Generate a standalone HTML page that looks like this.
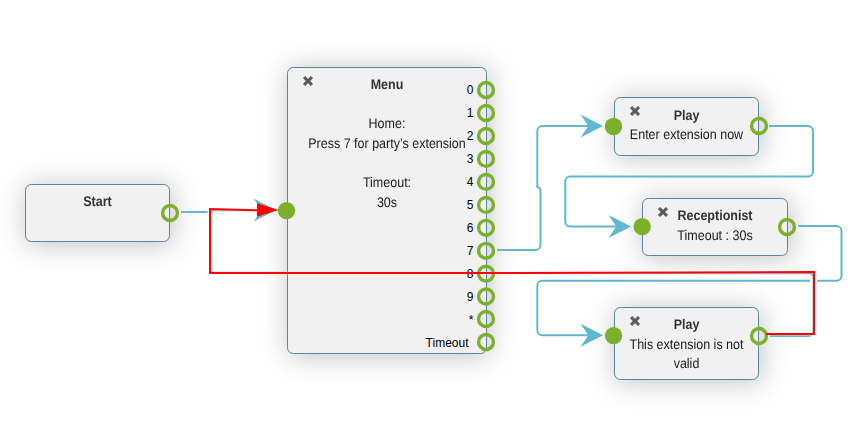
<!DOCTYPE html>
<html>
<head>
<meta charset="utf-8">
<title>IVR Flow</title>
<style>
html,body{margin:0;padding:0;background:#fff;}
body{width:866px;height:425px;position:relative;overflow:hidden;font-family:"Liberation Sans",sans-serif;font-size:12.6px;line-height:18px;color:#000;}
.w{position:absolute;box-sizing:border-box;border:1px solid #346789;border-radius:6.3px;background:#eeeeef;opacity:.8;box-shadow:2px 2px 26px 1px #b8b8b8;text-align:center;color:#000;}
.tx{position:absolute;z-index:7;text-align:center;color:rgba(0,0,0,.8);will-change:transform;font-size:14px;text-rendering:geometricPrecision;}
.tx .t{position:absolute;width:100%;font-weight:bold;white-space:nowrap;transform:scaleX(0.893);}
.tx .l{position:absolute;width:100%;white-space:nowrap;transform:scaleX(0.893);color:rgba(0,0,0,.9);}
.w svg.x{position:absolute;width:10px;height:10px;}
.lb{position:absolute;z-index:5;white-space:nowrap;line-height:18px;font-size:12px;}
svg.c{position:absolute;left:0;top:0;}
</style>
</head>
<body>
<svg class="c" width="866" height="425" viewBox="0 0 866 425" style="z-index:2">
 <g fill="none" stroke="#61B7CF" stroke-width="2" stroke-linejoin="round">
  <path d="M181 212 H254"/>
  <path d="M497 250 H535.5 A5 5 0 0 0 540.5 245 V190.6 Q540.5 188 538.4 187.5 L537.3 187.2 V131 A5 5 0 0 1 542.3 126 H590"/>
  <path d="M769 126 L808.0 126.0 A5.00 5.00 0 0 1 813.0 131.0 L813.0 171.4 A5.00 5.00 0 0 1 808.0 176.4 L570.3 176.4 A5.00 5.00 0 0 0 565.3 181.4 L565.3 221.5 A5.00 5.00 0 0 0 570.3 226.5 L618 226.5"/>
  <path d="M798 226 L836.5 226.0 A5.00 5.00 0 0 1 841.5 231.0 L841.5 275.7 A5.00 5.00 0 0 1 836.5 280.7 L542.3 280.7 A5.00 5.00 0 0 0 537.3 285.7 L537.3 330.3 A5.00 5.00 0 0 0 542.3 335.3 L590 335.3"/>
 </g>
 <path d="M603 126 L580.5 114.5 L588.31 126 L580.5 137.5 Z" fill="#61B7CF"/>
 <path d="M631 226.5 L608.5 215.0 L616.31 226.5 L608.5 238.0 Z" fill="#61B7CF"/>
 <path d="M603 335.3 L580.5 323.8 L588.31 335.3 L580.5 346.8 Z" fill="#61B7CF"/>
 <path d="M770 336 L808.5 336.0 A5.00 5.00 0 0 0 813.5 331.0 L813.5 278.3 A5.00 5.00 0 0 0 808.5 273.3 L215.3 272.7 A5.00 5.00 0 0 1 210.3 267.7 L210.3 215.2 A5.00 5.00 0 0 1 215.3 210.2 L254 210.2" fill="none" stroke="#fff" stroke-width="7"/>
 <path d="M770 336 L808.5 336.0 A5.00 5.00 0 0 0 813.5 331.0 L813.5 278.3 A5.00 5.00 0 0 0 808.5 273.3 L215.3 272.7 A5.00 5.00 0 0 1 210.3 267.7 L210.3 215.2 A5.00 5.00 0 0 1 215.3 210.2 L254 210.2" fill="none" stroke="#61B7CF" stroke-width="2"/>
 <path d="M214.5 213.6 H224" fill="none" stroke="#61B7CF" stroke-width="1" stroke-opacity="0.25"/>
 <path d="M276.1 210 L253.6 198.5 L261.41 210 L253.6 221.5 Z" fill="#61B7CF"/>
</svg>

<div class="w" style="left:25px;top:184px;width:145px;height:58px;z-index:1"></div>
<div class="w" style="left:287px;top:67px;width:200px;height:287px;z-index:3"><svg class="x" style="left:15px;top:8px" viewBox="0 0 10 10"><path d="M2.13 0.30 L5.00 3.17 L7.87 0.30 L9.70 2.13 L6.83 5.00 L9.70 7.87 L7.87 9.70 L5.00 6.83 L2.13 9.70 L0.30 7.87 L3.17 5.00 L0.30 2.13 Z" fill="#333" stroke="#333" stroke-width="0.6" stroke-linejoin="round"/></svg></div>
<div class="w" style="left:614px;top:97px;width:145px;height:59px;z-index:1"><svg class="x" style="left:15px;top:8px" viewBox="0 0 10 10"><path d="M2.13 0.30 L5.00 3.17 L7.87 0.30 L9.70 2.13 L6.83 5.00 L9.70 7.87 L7.87 9.70 L5.00 6.83 L2.13 9.70 L0.30 7.87 L3.17 5.00 L0.30 2.13 Z" fill="#333" stroke="#333" stroke-width="0.6" stroke-linejoin="round"/></svg></div>
<div class="w" style="left:642px;top:198px;width:146px;height:58px;z-index:1"><svg class="x" style="left:15px;top:8px" viewBox="0 0 10 10"><path d="M2.13 0.30 L5.00 3.17 L7.87 0.30 L9.70 2.13 L6.83 5.00 L9.70 7.87 L7.87 9.70 L5.00 6.83 L2.13 9.70 L0.30 7.87 L3.17 5.00 L0.30 2.13 Z" fill="#333" stroke="#333" stroke-width="0.6" stroke-linejoin="round"/></svg></div>
<div class="w" style="left:614px;top:307px;width:145px;height:73px;z-index:1"><svg class="x" style="left:15px;top:8px" viewBox="0 0 10 10"><path d="M2.13 0.30 L5.00 3.17 L7.87 0.30 L9.70 2.13 L6.83 5.00 L9.70 7.87 L7.87 9.70 L5.00 6.83 L2.13 9.70 L0.30 7.87 L3.17 5.00 L0.30 2.13 Z" fill="#333" stroke="#333" stroke-width="0.6" stroke-linejoin="round"/></svg></div>

<svg class="c" width="866" height="425" viewBox="0 0 866 425" style="z-index:4">
 <path d="M766 334 H814 V272 L490 273 L210 273 V209 L262 210.4" fill="none" stroke="#fff" stroke-width="3.6" stroke-opacity="0.35"/>
 <g fill="none" stroke="#7AB02C" stroke-width="3.4">
  <circle cx="170" cy="213" r="7.450"/>
  <circle cx="486" cy="90" r="7.450"/>
  <circle cx="486" cy="113" r="7.450"/>
  <circle cx="486" cy="136" r="7.450"/>
  <circle cx="486" cy="158.9" r="7.450"/>
  <circle cx="486" cy="181.9" r="7.450"/>
  <circle cx="486" cy="204.9" r="7.450"/>
  <circle cx="486" cy="227.8" r="7.450"/>
  <circle cx="486" cy="250.8" r="7.450"/>
  <circle cx="486" cy="273.7" r="7.450"/>
  <circle cx="486" cy="296.5" r="7.450"/>
  <circle cx="486" cy="319" r="7.450"/>
  <circle cx="486" cy="342" r="7.450"/>
  <circle cx="759" cy="126" r="7.450"/>
  <circle cx="787" cy="227" r="7.450"/>
  <circle cx="759" cy="336" r="7.450"/>
 </g>
 <g fill="#7AB02C">
  <circle cx="286.5" cy="210.6" r="8.700"/>
  <circle cx="613.5" cy="126.5" r="8.700"/>
  <circle cx="642.2" cy="226.6" r="8.700"/>
  <circle cx="613.6" cy="335.6" r="8.700"/>
 </g>
</svg>

<div class="lb" style="right:392.5px;top:81px">0</div>
<div class="lb" style="right:392.5px;top:104px">1</div>
<div class="lb" style="right:392.5px;top:127px">2</div>
<div class="lb" style="right:392.5px;top:150px">3</div>
<div class="lb" style="right:392.5px;top:173px">4</div>
<div class="lb" style="right:392.5px;top:196px">5</div>
<div class="lb" style="right:392.5px;top:219px">6</div>
<div class="lb" style="right:392.5px;top:242px">7</div>
<div class="lb" style="right:392.5px;top:265px">8</div>
<div class="lb" style="right:392.5px;top:288px">9</div>
<div class="lb" style="right:392.5px;top:311px">*</div>
<div class="lb" style="right:397.5px;top:334px">Timeout</div>

<svg class="c" width="866" height="425" viewBox="0 0 866 425" style="z-index:6">
 <path d="M766 334 H814 V272 L490 273 L210 273 V209 L262 210.4" fill="none" stroke="#f00" stroke-width="2" stroke-linejoin="miter"/>
 <path d="M278.6 210 L257 203.3 L257 216.7 Z" fill="#f00"/>
</svg>

<div class="tx" style="left:26px;top:185px;width:143px;height:56px"><div class="t" style="top:7px;left:-0.3px">Start</div></div>
<div class="tx" style="left:288px;top:68px;width:198px;height:285px"><div class="t" style="top:7px;left:-0.2px">Menu</div><div class="l" style="top:46px;left:-0.2px">Home:</div><div class="l" style="top:66px;left:-0.2px">Press 7 for party’s extension</div><div class="l" style="top:105px;left:-0.2px">Timeout:</div><div class="l" style="top:125px;left:-0.2px">30s</div></div>
<div class="tx" style="left:615px;top:98px;width:143px;height:57px"><div class="t" style="top:8px;left:0px">Play</div><div class="l" style="top:27px;left:0px">Enter extension now</div></div>
<div class="tx" style="left:643px;top:199px;width:144px;height:56px"><div class="t" style="top:7px;left:-0.2px">Receptionist</div><div class="l" style="top:27px;left:-0.2px">Timeout : 30s</div></div>
<div class="tx" style="left:615px;top:308px;width:143px;height:71px"><div class="t" style="top:7px;left:0px">Play</div><div class="l" style="top:27px;left:0px">This extension is not</div><div class="l" style="top:46px;left:0px">valid</div></div>

</body>
</html>
